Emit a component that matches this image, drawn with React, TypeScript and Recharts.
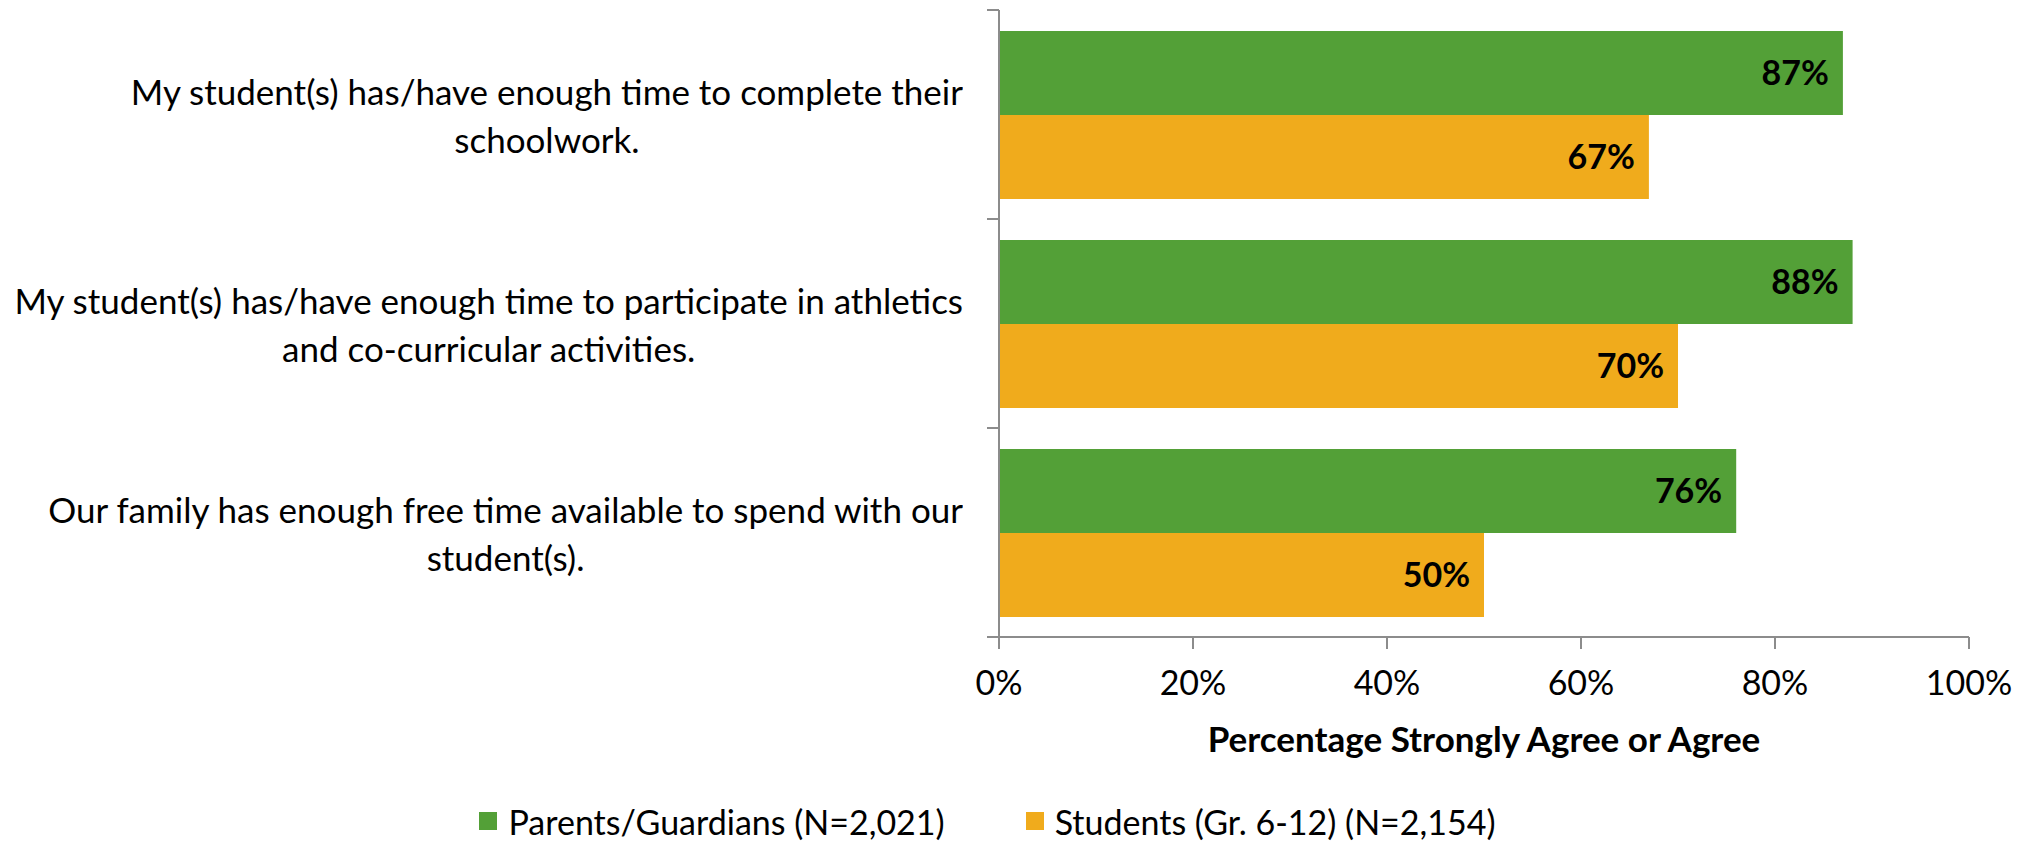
import React from "react";
import { BarChart, Bar, XAxis, YAxis, Legend, LabelList } from "recharts";

const categories = [
  "My student(s) has/have enough time to complete their\nschoolwork.",
  "My student(s) has/have enough time to participate in athletics\nand co-curricular activities.",
  "Our family has enough free time available to spend with our\nstudent(s).",
];
const parentsValues = [87, 88, 76];
const studentsValues = [67, 70, 50];
const xTicks = [0, 20, 40, 60, 80, 100];
const seriesNames = ["Parents/Guardians (N=2,021)", "Students (Gr. 6-12) (N=2,154)"];
const colors = ["#53A037", "#F0AB1C"];

const data = categories.map((c, i) => ({
  category: c,
  parents: parentsValues[i],
  students: studentsValues[i],
}));

const FONT = "Lato, 'Open Sans', sans-serif";
const W = 2030;
const H = 841;
const MARGIN = { top: 10, right: 61, bottom: 0, left: 0 };
const Y_WIDTH = 999;
const X_HEIGHT = 164;
const LEGEND_H = 40;
const BAND = (H - MARGIN.top - MARGIN.bottom - X_HEIGHT - LEGEND_H) / categories.length;
const AXIS_COLOR = "#8c8c8c";

const CategoryTick = (props: any) => {
  const { y, payload, index } = props;
  const lines = String(payload.value).split("\n");
  const axisX = Y_WIDTH;
  return (
    <g>
      <line x1={axisX - 12} x2={axisX} y1={y - BAND / 2} y2={y - BAND / 2} stroke={AXIS_COLOR} strokeWidth={2} />
      {index === categories.length - 1 && (
        <line x1={axisX - 12} x2={axisX} y1={y + BAND / 2} y2={y + BAND / 2} stroke={AXIS_COLOR} strokeWidth={2} />
      )}
      <foreignObject x={0} y={y - 80} width={axisX - 36} height={160}>
        <div
          style={{
            height: 160,
            display: "flex",
            alignItems: "center",
            justifyContent: "flex-end",
          }}
        >
          <div
            style={{
              textAlign: "center",
              fontFamily: FONT,
              fontSize: 35,
              lineHeight: "48px",
              color: "#000",
              whiteSpace: "pre",
            }}
          >
            {lines.join("\n")}
          </div>
        </div>
      </foreignObject>
    </g>
  );
};

const LegendContent = () => (
  <div
    style={{
      display: "flex",
      justifyContent: "center",
      alignItems: "center",
      height: LEGEND_H,
      paddingLeft: 6,
      fontFamily: FONT,
      fontSize: 34,
      color: "#000",
    }}
  >
    {seriesNames.map((n, i) => (
      <div key={n} style={{ display: "flex", alignItems: "center", marginLeft: i === 0 ? 0 : 81 }}>
        <div style={{ width: 18, height: 18, background: colors[i], marginRight: 11 }} />
        <span style={{ whiteSpace: "nowrap" }}>{n}</span>
      </div>
    ))}
  </div>
);

export default function App() {
  return (
    <div style={{ position: "absolute", left: 0, top: 0, background: "#fff" }}>
      <BarChart
        width={W}
        height={H}
        data={data}
        layout="vertical"
        margin={MARGIN}
        barCategoryGap="10%"
        barGap={0}
      >
        <XAxis
          type="number"
          domain={[0, 100]}
          ticks={xTicks}
          tickFormatter={(v: number) => `${v}%`}
          tickSize={12}
          tickMargin={22}
          height={X_HEIGHT}
          axisLine={{ stroke: AXIS_COLOR, strokeWidth: 2 }}
          tickLine={{ stroke: AXIS_COLOR, strokeWidth: 2 }}
          tick={{ fill: "#000", fontSize: 34, fontFamily: FONT }}
          label={{
            value: "Percentage Strongly Agree or Agree",
            position: "insideBottom",
            offset: 49,
            fill: "#000",
            fontSize: 35,
            fontWeight: "bold",
            fontFamily: FONT,
          }}
        />
        <YAxis
          type="category"
          dataKey="category"
          width={Y_WIDTH}
          interval={0}
          axisLine={{ stroke: AXIS_COLOR, strokeWidth: 2 }}
          tickLine={false}
          tick={<CategoryTick />}
        />
        <Legend verticalAlign="bottom" height={LEGEND_H} content={<LegendContent />} />
        <Bar dataKey="parents" name={seriesNames[0]} fill={colors[0]} isAnimationActive={false}>
          <LabelList
            dataKey="parents"
            position="insideRight"
            offset={14}
            formatter={(v: any) => `${v}%`}
            style={{ fill: "#000", fontSize: 34, fontWeight: "bold", fontFamily: FONT }}
          />
        </Bar>
        <Bar dataKey="students" name={seriesNames[1]} fill={colors[1]} isAnimationActive={false}>
          <LabelList
            dataKey="students"
            position="insideRight"
            offset={14}
            formatter={(v: any) => `${v}%`}
            style={{ fill: "#000", fontSize: 34, fontWeight: "bold", fontFamily: FONT }}
          />
        </Bar>
      </BarChart>
    </div>
  );
}
